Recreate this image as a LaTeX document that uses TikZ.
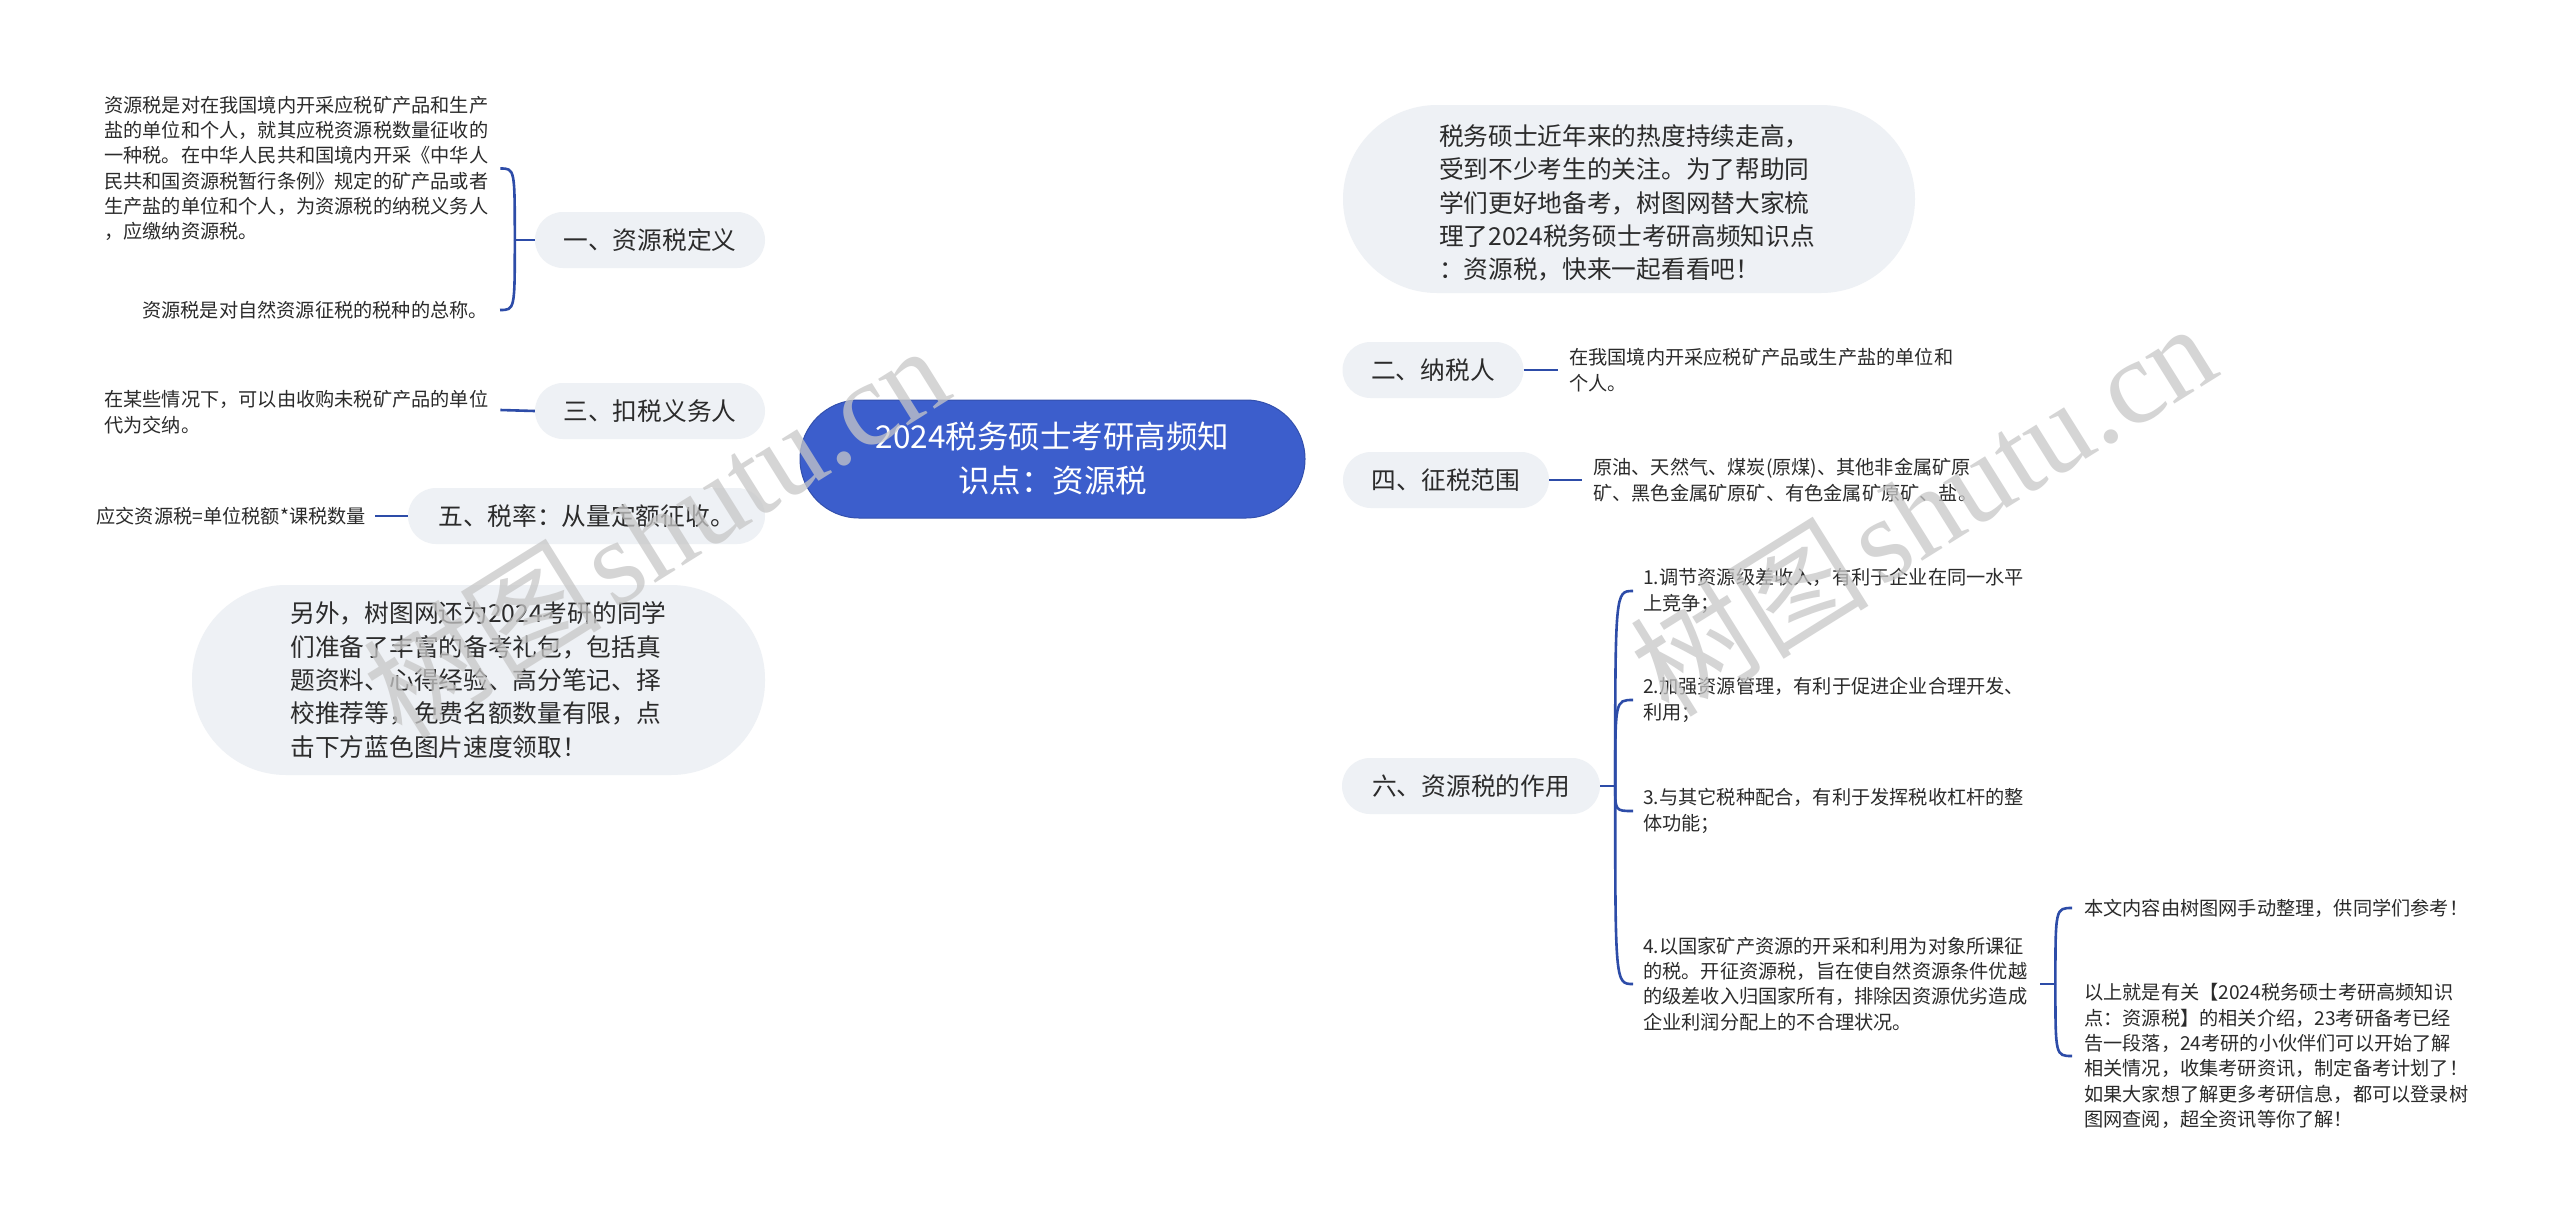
\documentclass[tikz,border=0pt]{standalone}
\usepackage{fontspec}
\setmainfont{Noto Sans CJK SC}
\newfontfamily\wmlatin{Liberation Serif}
\usetikzlibrary{calc}
\definecolor{lineblue}{HTML}{2D4CA8}
\definecolor{pillfill}{HTML}{EEF1F5}
\definecolor{rootfill}{HTML}{3C5ECC}
\definecolor{txt}{HTML}{2B2B2B}
\pgfdeclarelayer{background}
\pgfsetlayers{background,main}
\begin{document}
\begin{tikzpicture}[x=1pt,y=-1pt,
  conn/.style={draw=lineblue,line width=2.6pt},
  pill/.style={fill=pillfill,rounded corners=28pt,inner sep=0pt,minimum height=56pt,text=txt,font=\fontsize{24.7}{33.3}\selectfont,align=center},
  bigpill/.style={fill=pillfill,inner sep=0pt,text=txt,font=\fontsize{24.7}{33.3}\selectfont,align=left},
  leaf/.style={inner sep=0pt,text=txt,font=\fontsize{19.2}{25.3}\selectfont,align=left},
  rootnode/.style={fill=rootfill,draw=rootfill!85!black,line width=1pt,rounded corners=59pt,inner sep=0pt,minimum width=505pt,minimum height=118pt,text=white,font=\fontsize{31.5}{44}\selectfont,align=center},
  wm/.style={text=black!22,opacity=0.75,inner sep=0pt,font=\fontsize{120}{120}\selectfont}
]
\useasboundingbox[fill=white] (0,0) rectangle (2560,1221);

% root
\node[rootnode] (root) at (1052.5,459) {2024税务硕士考研高频知\\识点：资源税};

% branch pills
\node[pill,minimum width=230pt] (p1) at (650,240) {一、资源税定义};
\node[pill,minimum width=230pt] (p3) at (650,411) {三、扣税义务人};
\node[pill,minimum width=357pt] (p5) at (586.5,516) {五、税率：从量定额征收。};
\node[pill,minimum width=181pt] (p2) at (1433,370) {二、纳税人};
\node[pill,minimum width=206pt] (p4) at (1446,480) {四、征税范围};
\node[pill,minimum width=258pt] (p6) at (1471,786) {六、资源税的作用};
\node[bigpill,rounded corners=94pt,minimum width=573pt,minimum height=190pt] (pB) at (478.5,680) {};
\node[bigpill] (pBt) at (pB.center) {另外，树图网还为2024考研的同学\\们准备了丰富的备考礼包，包括真\\题资料、心得经验、高分笔记、择\\校推荐等，免费名额数量有限，点\\击下方蓝色图片速度领取！};
\node[bigpill,rounded corners=94pt,minimum width=572pt,minimum height=188pt] (pA) at (1629,199) {};
\node[bigpill] (pAt) at (1627,203) {税务硕士近年来的热度持续走高，\\受到不少考生的关注。为了帮助同\\学们更好地备考，树图网替大家梳\\理了2024税务硕士考研高频知识点\\：资源税，快来一起看看吧！};

% leaves
\node[leaf,anchor=west] (d1) at (104,168.5) {资源税是对在我国境内开采应税矿产品和生产\\盐的单位和个人，就其应税资源税数量征收的\\一种税。在中华人民共和国境内开采《中华人\\民共和国资源税暂行条例》规定的矿产品或者\\生产盐的单位和个人，为资源税的纳税义务人\\，应缴纳资源税。};
\node[leaf,anchor=east] (d1b) at (488,310) {资源税是对自然资源征税的税种的总称。};
\node[leaf,anchor=west] (d3) at (104,412) {在某些情况下，可以由收购未税矿产品的单位\\代为交纳。};
\node[leaf,anchor=east] (d5) at (366,516) {应交资源税=单位税额*课税数量};
\node[leaf,anchor=west] (l2) at (1569,370) {在我国境内开采应税矿产品或生产盐的单位和\\个人。};
\node[leaf,anchor=west] (l4) at (1593,480) {原油、天然气、煤炭(原煤)、其他非金属矿原\\矿、黑色金属矿原矿、有色金属矿原矿、盐。};
\node[leaf,anchor=west] (i1) at (1643,591) {1.调节资源级差收入，有利于企业在同一水平\\上竞争；};
\node[leaf,anchor=west] (i2) at (1643,700) {2.加强资源管理，有利于促进企业合理开发、\\利用；};
\node[leaf,anchor=west] (i3) at (1643,811) {3.与其它税种配合，有利于发挥税收杠杆的整\\体功能；};
\node[leaf,anchor=west] (i4) at (1643,984) {4.以国家矿产资源的开采和利用为对象所课征\\的税。开征资源税，旨在使自然资源条件优越\\的级差收入归国家所有，排除因资源优劣造成\\企业利润分配上的不合理状况。};
\node[leaf,anchor=west] (f1) at (2084,908) {本文内容由树图网手动整理，供同学们参考！};
\node[leaf,anchor=west] (f2) at (2084,1056) {以上就是有关【2024税务硕士考研高频知识\\点：资源税】的相关介绍，23考研备考已经\\告一段落，24考研的小伙伴们可以开始了解\\相关情况，收集考研资讯，制定备考计划了！\\如果大家想了解更多考研信息，都可以登录树\\图网查阅，超全资讯等你了解！};

% bracket junctions
\coordinate (b1) at ($(p1.west)+(-20,0)$);
\coordinate (b6) at ($(p6.east)+(15,0)$);
\coordinate (b4s) at ($(i4.east)+(13,0)$);
\coordinate (b4) at ($(b4s)+(15,0)$);

\begin{pgfonlayer}{background}
% root connectors
\draw[conn] ($(root.north)+(-6,0)$) .. controls (1035,290) and (880,240) .. (p1.east);
\draw[conn] (p3.east) -- (root.center |- p3.east);
\draw[conn] (p5.east) -- (root.center |- p5.east);
\draw[conn] ($(root.south)+(-4,0)$) .. controls (1040,620) and (900,680) .. (pB.east);
\draw[conn] ($(root.north)+(6,0)$) .. controls (1075,270) and (1200,199) .. (pA.west);
\draw[conn] ($(root.north)+(53,0)$) .. controls (1140,385) and (1240,370) .. (p2.west);
\draw[conn] (p4.west) -- (root.center |- p4.west);
\draw[conn] ($(root.south)+(4,0)$) .. controls (1070,700) and (1200,786) .. (p6.west);
\end{pgfonlayer}

% branch to leaves
\draw[conn] (p1.west) -- (b1);
\draw[conn] (b1) .. controls (b1 |- d1.east) and (b1 |- d1.east) .. ($(d1.east)+(12,0)$);
\draw[conn] (b1) .. controls (b1 |- d1b.east) and (b1 |- d1b.east) .. ($(d1b.east)+(12,0)$);
\draw[conn] (p3.west) -- ($(d3.east)+(12,-2)$);
\draw[conn] (p5.west) -- ($(d5.east)+(9,0)$);
\draw[conn] (p2.east) -- ($(l2.west)+(-11,0)$);
\draw[conn] (p4.east) -- ($(l4.west)+(-11,0)$);
\draw[conn] (p6.east) -- (b6);
\foreach \n in {i1,i2,i3,i4}{
  \draw[conn] (b6) .. controls (b6 |- \n.west) and (b6 |- \n.west) .. ($(\n.west)+(-10,0)$);
}
\draw[conn] (i4.east) ++(13,0) -- (b4);
\draw[conn] (b4) .. controls (b4 |- f1.west) and (b4 |- f1.west) .. ($(f1.west)+(-12,0)$);
\draw[conn] (b4) .. controls (b4 |- f2.west) and (b4 |- f2.west) .. ($(f2.west)+(-12,0)$);

% watermarks
\node[wm,rotate=32] (wm1) at (655,530) {树图\hspace{10pt}{\wmlatin shutu.cn}};
\node[wm,rotate=32] (wm2) at (1922,508) {树图\hspace{10pt}{\wmlatin shutu.cn}};
\end{tikzpicture}
\end{document}
